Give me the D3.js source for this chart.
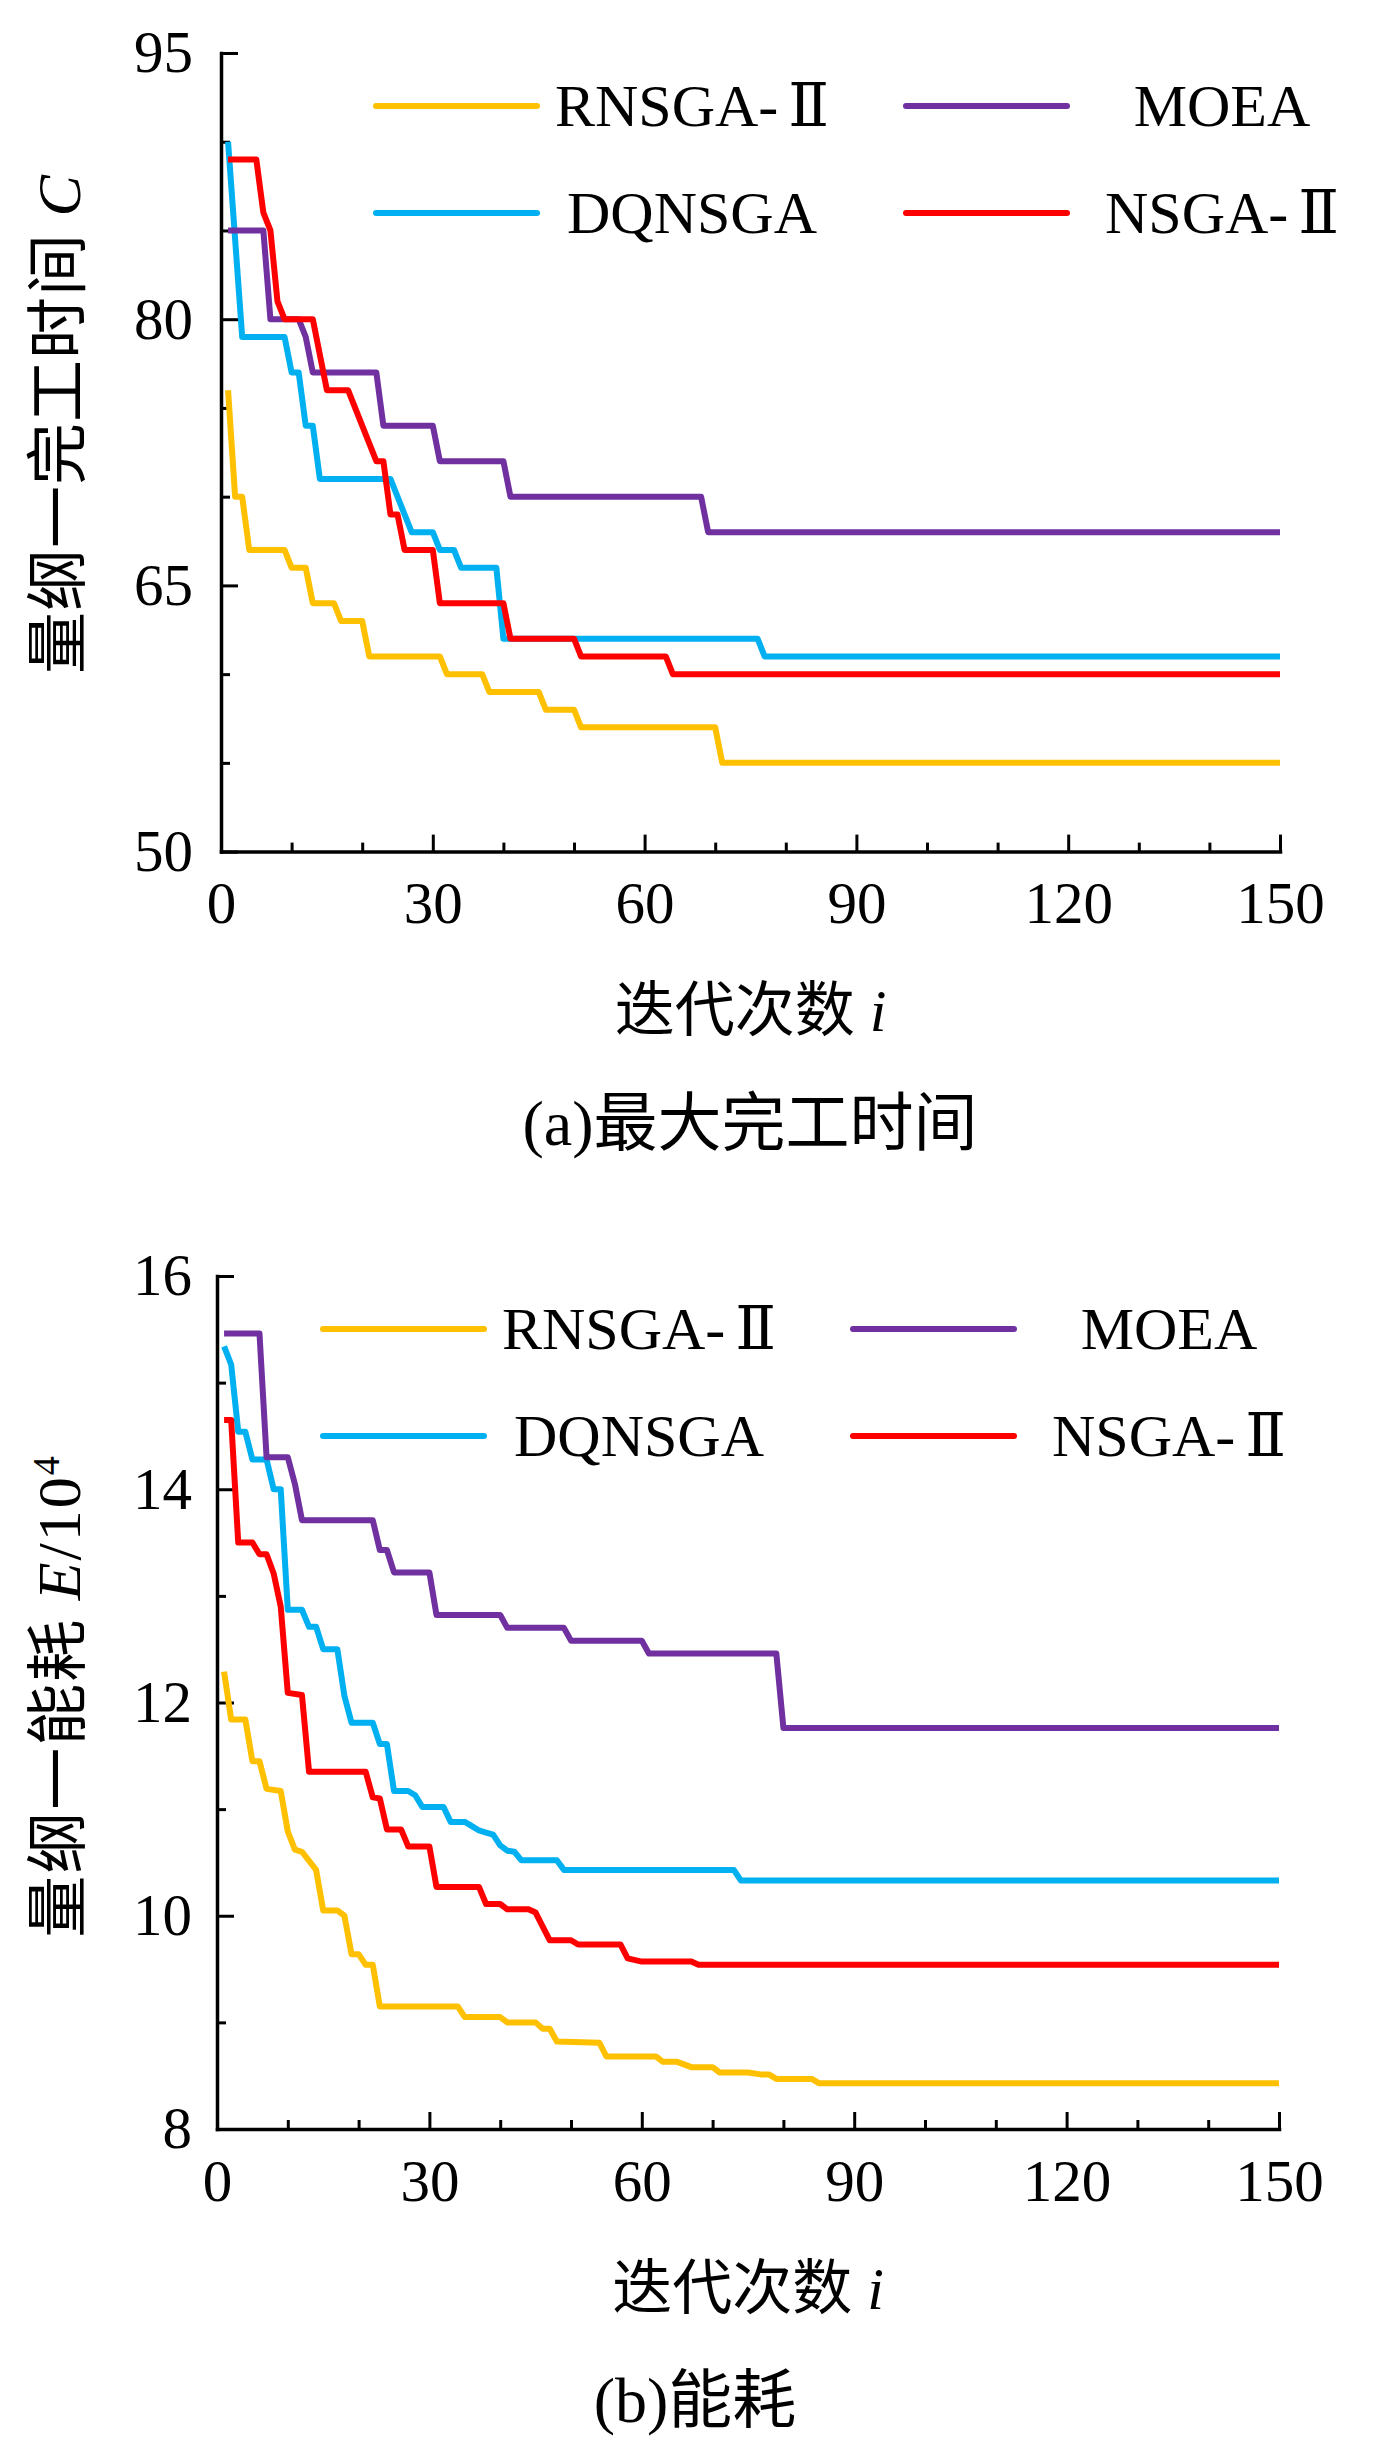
<!DOCTYPE html>
<html>
<head>
<meta charset="utf-8">
<script src="https://d3js.org/d3.v7.min.js"></script>
<style>
  body { margin: 0; background: #fff; }
  text { font-family: "Liberation Serif", "DejaVu Serif", "Noto Sans CJK SC", serif; fill: #000; }
</style>
</head>
<body>
<script>
// ---- data: [iteration, value] vertices ----
var seriesNames = ["RNSGA-Ⅱ", "DQNSGA", "MOEA", "NSGA-Ⅱ"];

var iterMajor = [0, 30, 60, 90, 120, 150];
var iterMinor = [10, 20, 40, 50, 70, 80, 100, 110, 130, 140];
var makespanMajor = [50, 65, 80, 95];
var makespanMinor = [55, 60, 70, 75, 85, 90];
var energyMajor = [8, 10, 12, 14, 16];
var energyMinor = [9, 11, 13, 15];

// (a) makespan C
var makespanRNSGA = [[1,76],[2,70],[3,70],[4,67],[9,67],[10,66],[12,66],[13,64],[16,64],[17,63],[20,63],[21,61],
  [31,61],[32,60],[37,60],[38,59],[45,59],[46,58],[50,58],[51,57],[70,57],[71,55],[150,55]];
var makespanDQNSGA = [[1,90],[3,79],[9,79],[10,77],[11,77],[12,74],[13,74],[14,71],[24,71],[27,68],[30,68],[31,67],
  [33,67],[34,66],[39,66],[40,62],[76,62],[77,61],[150,61]];
var makespanMOEA = [[1,85],[6,85],[7,80],[11,80],[12,79],[13,77],[22,77],[23,74],[30,74],[31,72],[40,72],[41,70],
  [68,70],[69,68],[150,68]];
var makespanNSGA = [[1,89],[5,89],[6,86],[7,85],[8,81],[9,80],[13,80],[15,76],[18,76],[22,72],[23,72],[24,69],
  [25,69],[26,67],[30,67],[31,64],[40,64],[41,62],[50,62],[51,61],[63,61],[64,60],[150,60]];

// (b) energy E / 10^4
var energyRNSGA = [[1,12.29],[2,11.84],[4,11.84],[5,11.45],[6,11.45],[7,11.19],[9,11.17],[10,10.79],[11,10.62],
  [12,10.60],[14,10.43],[15,10.05],[17,10.05],[18,10.0],[19,9.64],[20,9.64],[21,9.54],[22,9.54],[23,9.15],
  [34,9.15],[35,9.05],[40,9.05],[41,9.0],[45,9.0],[46,8.94],[47,8.94],[48,8.82],[54,8.81],[55,8.68],[62,8.68],
  [63,8.63],[65,8.63],[67,8.58],[70,8.58],[71,8.53],[75,8.53],[77,8.51],[78,8.51],[79,8.47],[84,8.47],
  [85,8.43],[150,8.43]];
var energyDQNSGA = [[1,15.34],[2,15.17],[3,14.54],[4,14.54],[5,14.28],[7,14.28],[8,14.0],[9,14.0],[10,12.87],
  [12,12.87],[13,12.71],[14,12.71],[15,12.5],[17,12.5],[18,12.06],[19,11.81],[22,11.81],[23,11.61],[24,11.61],
  [25,11.17],[27,11.17],[28,11.13],[29,11.02],[32,11.02],[33,10.88],[35,10.88],[36,10.84],[37,10.80],
  [38,10.78],[39,10.76],[40,10.66],[41,10.61],[42,10.60],[43,10.52],[48,10.52],[49,10.43],[73,10.43],
  [74,10.33],[150,10.33]];
var energyMOEA = [[1,15.46],[6,15.46],[7,14.3],[10,14.3],[11,14.05],[12,13.71],[22,13.71],[23,13.43],[24,13.43],
  [25,13.22],[30,13.22],[31,12.82],[40,12.82],[41,12.7],[49,12.7],[50,12.58],[60,12.58],[61,12.46],[79,12.46],
  [80,11.76],[150,11.76]];
var energyNSGA = [[1,14.65],[2,14.65],[3,13.5],[5,13.5],[6,13.39],[7,13.39],[8,13.21],[9,12.9],[10,12.09],
  [12,12.07],[13,11.35],[21,11.35],[22,11.11],[23,11.1],[24,10.81],[26,10.81],[27,10.65],[30,10.65],[31,10.27],
  [37,10.27],[38,10.11],[40,10.11],[41,10.06],[44,10.06],[45,10.03],[47,9.77],[50,9.77],[51,9.73],[57,9.73],
  [58,9.6],[60,9.57],[67,9.57],[68,9.54],[150,9.54]];

// ---- styling ----
var colors = { "RNSGA-Ⅱ": "#FFC000", "DQNSGA": "#00B0F0", "MOEA": "#7030A0", "NSGA-Ⅱ": "#FF0000" };

var svg = d3.select("body").append("svg")
  .attr("width", 1388)
  .attr("height", 2463);

// legend label: put a little gap before the roman numeral like the original
function legendLabel(t, name) {
  var k = name.indexOf("Ⅱ");
  if (k < 0) { t.text(name); return; }
  t.append("tspan").text(name.slice(0, k));
  t.append("tspan").attr("dx", 10).text("Ⅱ");
}

function drawPanel(p) {
  var g = svg.append("g");
  var x = d3.scaleLinear().domain([0, 150]).range([p.left, p.right]);
  var y = d3.scaleLinear().domain(p.yDomain).range([p.bottom, p.top]);

  // minor ticks
  g.append("g").attr("transform", "translate(0," + p.bottom + ")")
    .call(d3.axisBottom(x).tickValues(iterMinor).tickSize(-9).tickFormat("").tickSizeOuter(0))
    .call(a => a.select(".domain").remove());
  g.append("g").attr("transform", "translate(" + p.left + ",0)")
    .call(d3.axisLeft(y).tickValues(p.yMinor).tickSize(-9).tickFormat("").tickSizeOuter(0))
    .call(a => a.select(".domain").remove());

  // major ticks + labels
  var xa = g.append("g").attr("transform", "translate(0," + p.bottom + ")")
    .call(d3.axisBottom(x).tickValues(iterMajor).tickSize(-17).tickPadding(30).tickSizeOuter(0));
  var ya = g.append("g").attr("transform", "translate(" + p.left + ",0)")
    .call(d3.axisLeft(y).tickValues(p.yMajor).tickSize(-17).tickPadding(p.yPad).tickSizeOuter(0));

  g.selectAll(".tick line").attr("stroke", "#000").attr("stroke-width", 3);
  g.selectAll(".domain").attr("stroke", "#000").attr("stroke-width", 3.5).attr("stroke-linecap", "square");
  [xa, ya].forEach(function(a) {
    a.attr("font-family", null).attr("font-size", null);
    a.selectAll("text").style("font-size", "59px");
  });

  // series
  var line = d3.line().x(d => x(d[0])).y(d => y(d[1]));
  p.series.forEach(function(s, i) {
    g.append("path")
      .datum(s)
      .attr("d", line)
      .attr("fill", "none")
      .attr("stroke", colors[seriesNames[i]])
      .attr("stroke-width", 6)
      .attr("stroke-linejoin", "round");
  });

  // legend: row 1 RNSGA-Ⅱ / MOEA, row 2 DQNSGA / NSGA-Ⅱ
  var legendOrder = [[0, 2], [1, 3]];
  legendOrder.forEach(function(row, r) {
    var ly = p.top + 53 + r * 107;
    row.forEach(function(si, c) {
      var lx = p.legendX + c * 530;
      g.append("line")
        .attr("x1", lx).attr("x2", lx + 161)
        .attr("y1", ly).attr("y2", ly)
        .attr("stroke", colors[seriesNames[si]])
        .attr("stroke-width", 6)
        .attr("stroke-linecap", "round");
      var t = g.append("text")
        .attr("x", lx + 316)
        .attr("y", ly)
        .attr("dy", "0.34em")
        .attr("text-anchor", "middle")
        .style("font-size", "60px");
      legendLabel(t, seriesNames[si]);
    });
  });

  // y title
  var yt = g.append("text")
    .attr("transform", "translate(58," + p.yTitleY + ") rotate(-90)")
    .attr("text-anchor", "middle")
    .attr("dy", "0.36em")
    .style("font-size", "62px")
    .style("letter-spacing", p.yTitleSpacing + "px");
  p.yTitle(yt);

  // x title
  var xt = g.append("text")
    .attr("x", (p.left + p.right) / 2)
    .attr("y", p.bottom + 158)
    .attr("dy", "0.36em")
    .attr("text-anchor", "middle")
    .style("font-size", "60px");
  xt.append("tspan").text("迭代次数 ");
  xt.append("tspan").style("font-style", "italic").text("i");

  // caption
  g.append("text")
    .attr("x", p.captionX)
    .attr("y", p.bottom + 270)
    .attr("dy", "0.36em")
    .attr("text-anchor", "middle")
    .style("font-size", "64px")
    .text(p.caption);
}

drawPanel({
  left: 221, right: 1280, top: 53, bottom: 851.6,
  yDomain: [50, 95], yMajor: makespanMajor, yMinor: makespanMinor, yPad: 28,
  series: [makespanRNSGA, makespanDQNSGA, makespanMOEA, makespanNSGA],
  legendX: 376,
  yTitleY: 424, yTitleSpacing: 1,
  yTitle: function(t) {
    t.append("tspan").text("量纲一完工时间 ");
    t.append("tspan").style("font-style", "italic").text("C");
  },
  captionX: 750,
  caption: "(a)最大完工时间"
});

drawPanel({
  left: 217, right: 1279, top: 1276, bottom: 2129,
  yDomain: [8, 16], yMajor: energyMajor, yMinor: energyMinor, yPad: 25,
  series: [energyRNSGA, energyDQNSGA, energyMOEA, energyNSGA],
  legendX: 323,
  yTitleY: 1696, yTitleSpacing: 2,
  yTitle: function(t) {
    t.append("tspan").text("量纲一能耗 ");
    t.append("tspan").style("font-style", "italic").text("E");
    t.append("tspan").text("/10");
    t.append("tspan").attr("dy", "-0.55em").style("font-size", "38px").text("4");
  },
  captionX: 695,
  caption: "(b)能耗"
});
</script>
</body>
</html>
